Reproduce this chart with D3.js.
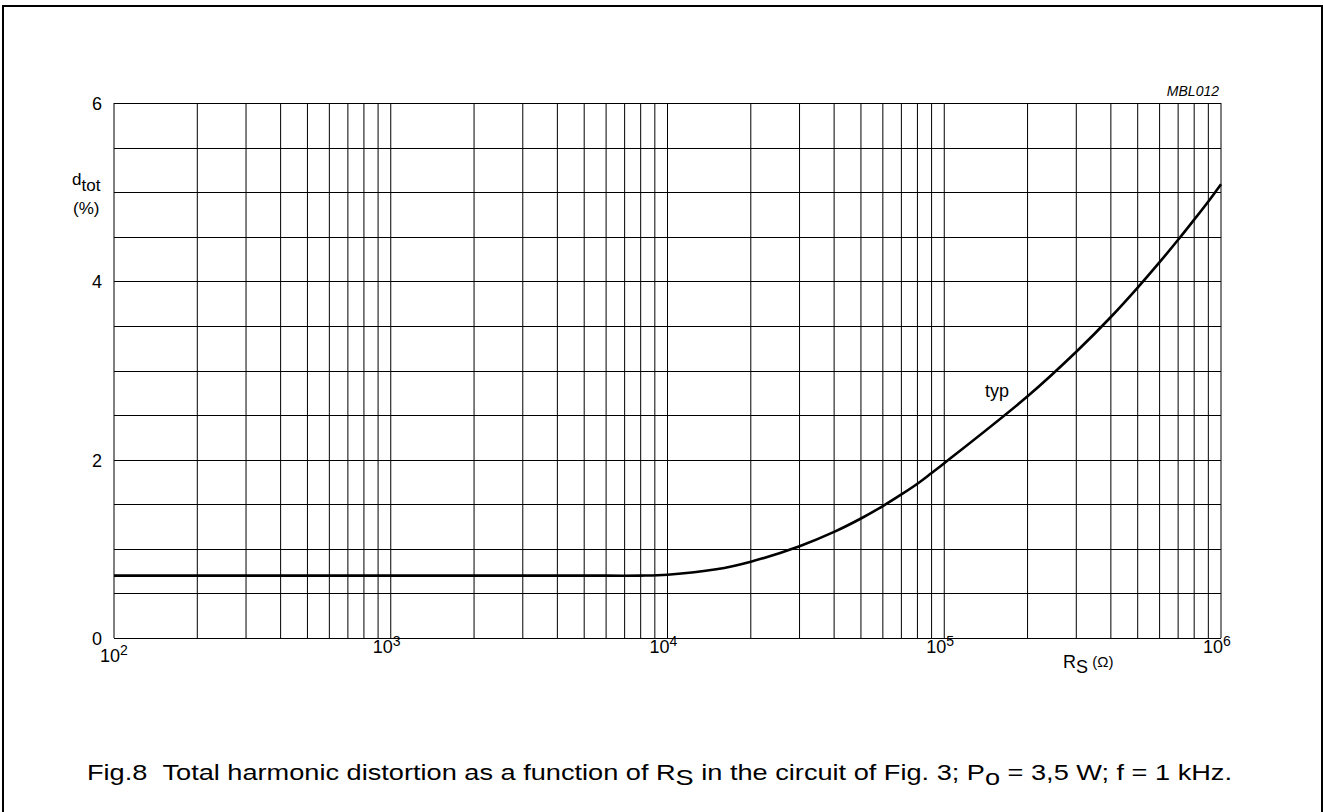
<!DOCTYPE html>
<html>
<head>
<meta charset="utf-8">
<script src="https://cdn.jsdelivr.net/npm/d3@7"></script>
<style>
  body { margin: 0; background: #fff; }
  svg { display: block; font-family: "Liberation Sans", Arial, sans-serif; }
</style>
</head>
<body>
<div id="chart"></div>
<script>
// Data: source resistance (ohm) vs total distortion (%)
var rsValues = [100, 200, 500, 1000, 2000, 5000, 8000, 10000, 15000, 20000, 30000, 40000, 50000,
                60000, 70000, 80000, 90000, 100000, 200000, 300000, 400000, 500000, 600000,
                700000, 800000, 900000, 1000000];
var dtotValues = [0.70, 0.70, 0.70, 0.70, 0.70, 0.70, 0.70, 0.71, 0.77, 0.856, 1.03, 1.19, 1.34,
                  1.48, 1.61, 1.73, 1.85, 1.96, 2.71, 3.21, 3.60, 3.93, 4.215,
                  4.466, 4.692, 4.896, 5.09];
var yTicks = [0, 2, 4, 6];
var xDecades = [2, 3, 4, 5, 6];

var width = 1323, height = 812;
var plot = {left: 114, right: 1221, top: 103, bottom: 638};

var svg = d3.select("#chart").append("svg")
    .attr("width", width)
    .attr("height", height);

// outer frame
svg.append("path")
   .attr("d", "M3," + height + "V6H1322V" + height)
   .attr("fill", "none")
   .attr("stroke", "#000")
   .attr("stroke-width", 2);

var x = d3.scaleLog().domain([1e2, 1e6]).range([plot.left, plot.right]);
var y = d3.scaleLinear().domain([0, 6]).range([plot.bottom, plot.top]);

var grid = svg.append("g").attr("class", "grid");

// vertical grid: 1..9 per decade
var xGrid = [];
for (var dec = 2; dec < 6; dec++) {
    for (var m = 1; m < 10; m++) xGrid.push(m * Math.pow(10, dec));
}
xGrid.push(1e6);
grid.selectAll(".vline")
    .data(xGrid)
    .enter().append("line")
    .attr("class", "vline")
    .attr("x1", function(d) { return x(d); })
    .attr("x2", function(d) { return x(d); })
    .attr("y1", plot.top)
    .attr("y2", plot.bottom)
    .attr("stroke", "#000")
    .attr("stroke-width", 1);

// horizontal grid every 0.5 %
var yGrid = d3.range(0, 6.01, 0.5);
grid.selectAll(".hline")
    .data(yGrid)
    .enter().append("line")
    .attr("class", "hline")
    .attr("x1", plot.left)
    .attr("x2", plot.right)
    .attr("y1", function(d) { return Math.round(y(d)) + 0.5; })
    .attr("y2", function(d) { return Math.round(y(d)) + 0.5; })
    .attr("stroke", "#000")
    .attr("stroke-width", 1);

// curve
var pts = rsValues.map(function(r, i) { return [r, dtotValues[i]]; });
var line = d3.line()
    .x(function(d) { return x(d[0]); })
    .y(function(d) { return y(d[1]); })
    .curve(d3.curveCatmullRom.alpha(0.5));
svg.append("path")
   .datum(pts)
   .attr("d", line)
   .attr("fill", "none")
   .attr("stroke", "#000")
   .attr("stroke-width", 2.6);

// y tick labels
svg.selectAll(".ytick")
   .data(yTicks)
   .enter().append("text")
   .attr("class", "ytick")
   .attr("x", 102)
   .attr("y", function(d) { return y(d) + 7; })
   .attr("text-anchor", "end")
   .attr("font-size", 18)
   .text(function(d) { return d; });

// x tick labels 10^n
var xl = svg.selectAll(".xtick")
   .data(xDecades)
   .enter().append("text")
   .attr("class", "xtick")
   .attr("x", function(d) { return x(Math.pow(10, d)) + (d === 2 ? 0 : -4); })
   .attr("y", function(d) { return d === 2 ? 662 : 653; })
   .attr("text-anchor", "middle")
   .attr("font-size", 18);
xl.append("tspan").text("10");
xl.append("tspan").attr("dy", -7).attr("font-size", 14).text(function(d) { return d; });

// y axis title
var yt = svg.append("text").attr("x", 72).attr("y", 185).attr("font-size", 17);
yt.append("tspan").text("d");
yt.append("tspan").attr("dy", 6).text("tot");
svg.append("text").attr("x", 73).attr("y", 214).attr("font-size", 17).text("(%)");

// x axis title
var xt = svg.append("text").attr("x", 1063).attr("y", 668).attr("font-size", 18);
xt.append("tspan").text("R");
xt.append("tspan").attr("dy", 5).text("S");
xt.append("tspan").attr("dy", -6).attr("font-size", 15).text(" (\u03A9)");

// curve label
svg.append("text").attr("x", 985).attr("y", 397).attr("font-size", 18).text("typ");

// figure code
svg.append("text")
   .attr("x", plot.right - 2).attr("y", 96)
   .attr("text-anchor", "end")
   .attr("font-size", 14)
   .attr("font-style", "italic")
   .text("MBL012");

// caption
var cap = svg.append("text").attr("x", 87).attr("y", 780).attr("font-size", 22)
   .attr("textLength", 1145).attr("lengthAdjust", "spacingAndGlyphs");
cap.append("tspan").text("Fig.8\u00A0\u00A0Total harmonic distortion as a function of R");
cap.append("tspan").attr("dy", 5).text("S");
cap.append("tspan").attr("dy", -5).text(" in the circuit of Fig. 3; P");
cap.append("tspan").attr("dy", 5).text("o");
cap.append("tspan").attr("dy", -5).text(" = 3,5 W; f = 1 kHz.");
</script>
</body>
</html>
